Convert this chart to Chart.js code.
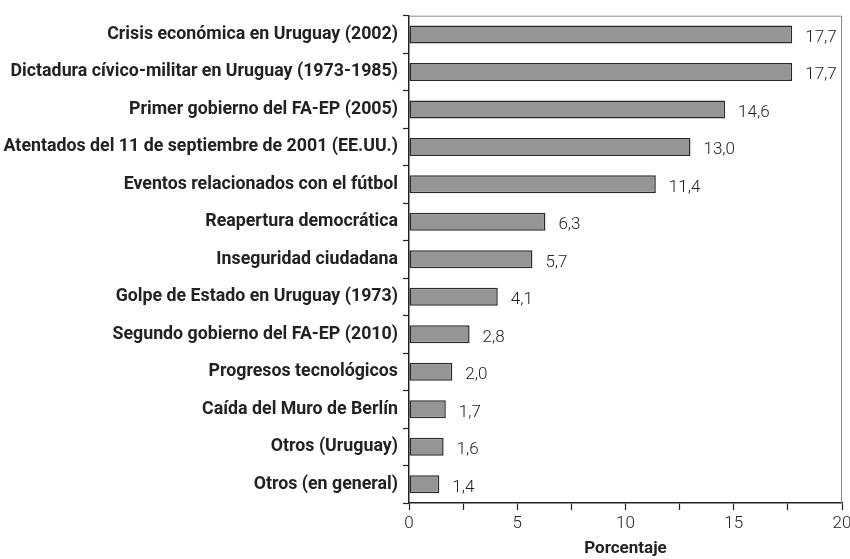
<!DOCTYPE html>
<html><head><meta charset="utf-8">
<script src="https://cdn.jsdelivr.net/npm/chart.js@4/dist/chart.umd.min.js"></script>
<style>html,body{margin:0;padding:0;background:#fff}#wrap{width:850px;height:559px}</style>
</head><body><div id="wrap"><canvas id="c" width="850" height="559"></canvas></div>
<script>
const categories = [
  "Crisis económica en Uruguay (2002)",
  "Dictadura cívico-militar en Uruguay (1973-1985)",
  "Primer gobierno del FA-EP (2005)",
  "Atentados del 11 de septiembre de 2001 (EE.UU.)",
  "Eventos relacionados con el fútbol",
  "Reapertura democrática",
  "Inseguridad ciudadana",
  "Golpe de Estado en Uruguay (1973)",
  "Segundo gobierno del FA-EP (2010)",
  "Progresos tecnológicos",
  "Caída del Muro de Berlín",
  "Otros (Uruguay)",
  "Otros (en general)"
];
const percentages = [17.7, 17.7, 14.6, 13.0, 11.4, 6.3, 5.7, 4.1, 2.8, 2.0, 1.7, 1.6, 1.4];
const xTickLabels = ["0", "5", "10", "15", "20"];
const xTitle = "Porcentaje";

const FONT = "Roboto";
const frame = {
  id: 'frame',
  afterDatasetsDraw(chart) {
    const {ctx, chartArea: a} = chart;
    ctx.save();
    ctx.strokeStyle = '#8a8a8a';
    ctx.lineWidth = 1;
    ctx.beginPath();
    ctx.moveTo(a.left, a.top + 0.5);
    ctx.lineTo(a.right - 0.5, a.top + 0.5);
    ctx.lineTo(a.right - 0.5, a.bottom);
    ctx.stroke();
    // value labels
    const meta = chart.getDatasetMeta(0);
    ctx.fillStyle = '#222';
    ctx.font = '300 17px ' + FONT;
    ctx.textAlign = 'left';
    ctx.textBaseline = 'middle';
    meta.data.forEach((bar, i) => {
      const v = chart.data.datasets[0].data[i];
      ctx.fillText(v.toFixed(1).replace('.', ','), bar.x + 13, bar.y + 3);
    });
    ctx.restore();
  }
};

new Chart(document.getElementById('c'), {
  type: 'bar',
  data: {
    labels: categories,
    datasets: [{
      data: percentages,
      backgroundColor: '#959597',
      borderColor: '#2a2a2a',
      borderWidth: 1.5,
      borderSkipped: false,
      categoryPercentage: 0.48,
      barPercentage: 1.0
    }]
  },
  options: {
    indexAxis: 'y',
    responsive: false,
    animation: false,
    layout: {padding: {top: 11, right: 8, left: 0, bottom: 0}},
    plugins: {legend: {display: false}, tooltip: {enabled: false}},
    scales: {
      x: {
        min: 0, max: 20,
        ticks: {
          stepSize: 2.5,
          autoSkip: false,
          maxRotation: 0,
          color: '#222',
          font: {family: FONT, size: 17, weight: '300'},
          padding: 4,
          callback: (v) => {
            const idx = v / 5;
            return Number.isInteger(idx) ? xTickLabels[idx] : '';
          }
        },
        grid: {drawOnChartArea: false, tickLength: 7, color: '#222', tickWidth: 1.2},
        border: {color: '#222', width: 1.5},
        title: {display: true, text: xTitle, color: '#222', font: {family: FONT, size: 17, weight: 'bold'}, padding: {top: 0, bottom: 0}},
        afterFit: (s) => { s.height = 56; s.paddingRight = 0; s.paddingLeft = 0; }
      },
      y: {
        ticks: {color: '#222', font: {family: FONT, size: 17.8, weight: 'bold'}, padding: 5, autoSkip: false},
        grid: {drawOnChartArea: false, tickLength: 6, color: '#222', offset: true, tickWidth: 1.2},
        border: {color: '#222', width: 1.5},
        afterFit: (s) => { s.width = 409; }
      }
    }
  },
  plugins: [frame]
});
</script></body></html>
